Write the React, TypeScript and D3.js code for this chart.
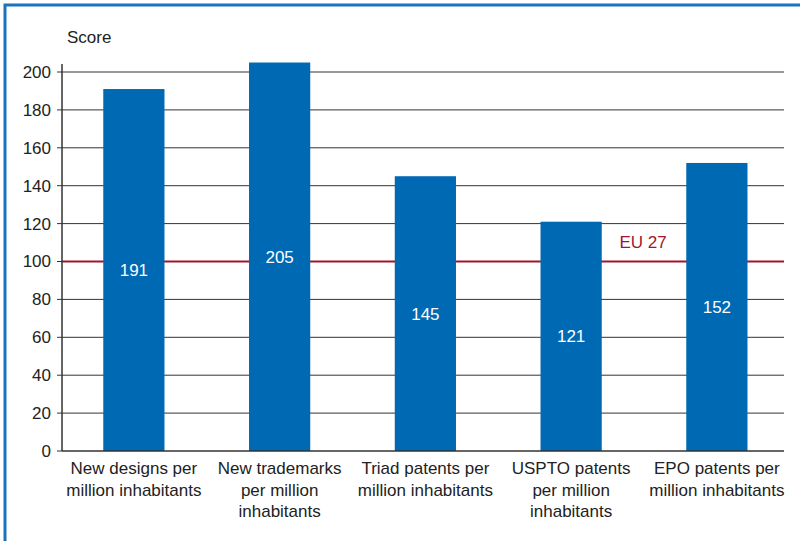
import React from "react";
import * as d3 from "d3";

const categories = [
  "New designs per million inhabitants",
  "New trademarks per million inhabitants",
  "Triad patents per million inhabitants",
  "USPTO patents per million inhabitants",
  "EPO patents per million inhabitants",
];
const categoryLines = [
  ["New designs per", "million inhabitants"],
  ["New trademarks", "per million", "inhabitants"],
  ["Triad patents per", "million inhabitants"],
  ["USPTO patents", "per million", "inhabitants"],
  ["EPO patents per", "million inhabitants"],
];
const values = [191, 205, 145, 121, 152];
const yTicks = [0, 20, 40, 60, 80, 100, 120, 140, 160, 180, 200];
const referenceValue = 100;
const referenceLabel = "EU 27";

export default function App() {
  const W = 800, H = 541;
  const left = 62, right = 784, top = 72, bottom = 451;
  const x = d3.scaleBand<number>().domain(d3.range(values.length)).range([61, 789.75]).paddingInner(0.58).paddingOuter(0.29);
  const y = d3.scaleLinear().domain([0, 200]).range([bottom, top]);
  const font = "Helvetica, Arial, 'Liberation Sans', sans-serif";
  const blue = "#0069b4";
  const red = "#a0162e";
  const fs = 17;
  return (
    <svg width={W} height={H} style={{ position: "absolute", left: 0, top: 0, background: "#fff" }} fontFamily={font}>
      <rect x={5} y={5} width={W + 10} height={H + 10} fill="none" stroke="#1b72c0" strokeWidth={3} />
      <text x={67} y={43} fontSize={fs} fill="#222">Score</text>
      {yTicks.map((t) => (
        <g key={t}>
          {t > 0 && t !== referenceValue && (
            <line x1={left} x2={right} y1={y(t)} y2={y(t)} stroke="#333" strokeWidth={1} />
          )}
          <line x1={left - 5} x2={left} y1={y(t)} y2={y(t)} stroke="#333" strokeWidth={1} />
          <text x={51} y={y(t)} dy="0.35em" textAnchor="end" fontSize={fs} fill="#222">{t}</text>
        </g>
      ))}
      <line x1={left} x2={right} y1={y(referenceValue)} y2={y(referenceValue)} stroke={red} strokeWidth={2} />
      {values.map((v, i) => (
        <g key={categories[i]}>
          <rect x={x(i)!} y={y(v)} width={x.bandwidth()} height={bottom - y(v)} fill={blue} />
          <text x={x(i)! + x.bandwidth() / 2} y={(y(v) + bottom) / 2} dy="0.35em" textAnchor="middle" fontSize={fs} fill="#fff">{v}</text>
        </g>
      ))}
      <text x={643} y={y(referenceValue) - 19} dy="0.35em" textAnchor="middle" fontSize={fs} fill={red}>{referenceLabel}</text>
      <line x1={left} x2={left} y1={64} y2={bottom} stroke="#333" strokeWidth={1.5} />
      <line x1={left} x2={right} y1={bottom} y2={bottom} stroke="#333" strokeWidth={1.5} />
      {categoryLines.map((lines, i) => (
        <text key={i} x={x(i)! + x.bandwidth() / 2} y={474} textAnchor="middle" fontSize={fs} fill="#222">
          {lines.map((l, j) => (
            <tspan key={j} x={x(i)! + x.bandwidth() / 2} dy={j === 0 ? 0 : 21.5}>{l}</tspan>
          ))}
        </text>
      ))}
    </svg>
  );
}
